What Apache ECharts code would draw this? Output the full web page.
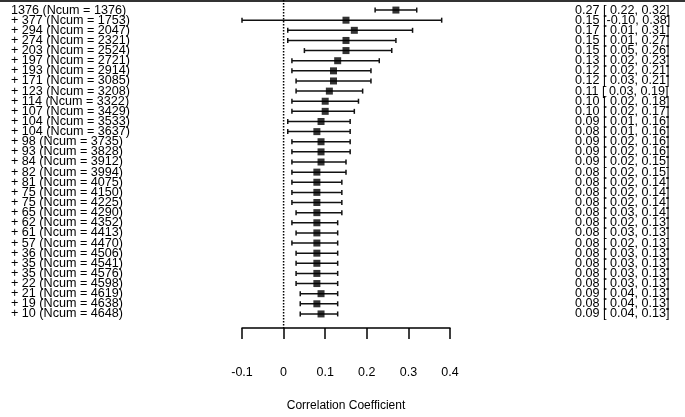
<!DOCTYPE html>
<html>
<head>
<meta charset="utf-8">
<script src="https://cdn.jsdelivr.net/npm/echarts@6/dist/echarts.min.js"></script>
<style>
  html, body { margin: 0; padding: 0; background: #fff; }
  #chart { width: 685px; height: 417px; }
</style>
</head>
<body>
<div id="chart"></div>
<script>
// ---- data ----
const added = [1376, 377, 294, 274, 203, 197, 193, 171, 123, 114, 107, 104, 104, 98, 93, 84, 82, 81, 75, 75, 65, 62, 61, 57, 36, 35, 35, 22, 21, 19, 10];
const ncum = [1376, 1753, 2047, 2321, 2524, 2721, 2914, 3085, 3208, 3322, 3429, 3533, 3637, 3735, 3828, 3912, 3994, 4075, 4150, 4225, 4290, 4352, 4413, 4470, 4506, 4541, 4576, 4598, 4619, 4638, 4648];
const estimate = [0.27, 0.15, 0.17, 0.15, 0.15, 0.13, 0.12, 0.12, 0.11, 0.10, 0.10, 0.09, 0.08, 0.09, 0.09, 0.09, 0.08, 0.08, 0.08, 0.08, 0.08, 0.08, 0.08, 0.08, 0.08, 0.08, 0.08, 0.08, 0.09, 0.08, 0.09];
const lower = [0.22, -0.10, 0.01, 0.01, 0.05, 0.02, 0.02, 0.03, 0.03, 0.02, 0.02, 0.01, 0.01, 0.02, 0.02, 0.02, 0.02, 0.02, 0.02, 0.02, 0.03, 0.02, 0.03, 0.02, 0.03, 0.03, 0.03, 0.03, 0.04, 0.04, 0.04];
const upper = [0.32, 0.38, 0.31, 0.27, 0.26, 0.23, 0.21, 0.21, 0.19, 0.18, 0.17, 0.16, 0.16, 0.16, 0.16, 0.15, 0.15, 0.14, 0.14, 0.14, 0.14, 0.13, 0.13, 0.13, 0.13, 0.13, 0.13, 0.13, 0.13, 0.13, 0.13];
const xTicks = [-0.1, 0, 0.1, 0.2, 0.3, 0.4];
const xTitle = 'Correlation Coefficient';

// ---- derived ----
const leftLabels = added.map((a, i) => (i === 0 ? '' : '+ ') + a + ' (Ncum = ' + ncum[i] + ')');
const fmt = v => v.toFixed(2);
const rightLabels = estimate.map((e, i) =>
  fmt(e) + ' [' + (lower[i] >= 0 ? ' ' : '') + fmt(lower[i]) + ', ' + fmt(upper[i]) + ']');
const rows = added.map((_, i) => i);

const FONT = '"Liberation Sans", Arial, sans-serif';
const FS = 12.6;
const chart = echarts.init(document.getElementById('chart'), null, { renderer: 'canvas' });

chart.setOption({
  animation: false,
  backgroundColor: '#fff',
  grid: { left: 242, right: 235, top: 5, height: 323, containLabel: false },
  graphic: [
    { type: 'rect', shape: { x: 0, y: 0, width: 685, height: 2 }, style: { fill: '#333' } }
  ],
  xAxis: {
    type: 'value',
    min: xTicks[0],
    max: xTicks[xTicks.length - 1],
    interval: 0.1,
    offset: 9,
    name: xTitle,
    nameLocation: 'middle',
    nameGap: 72,
    nameTextStyle: { fontFamily: FONT, fontSize: 12, color: '#000' },
    axisLine: { show: true, lineStyle: { color: '#000', width: 1.5 } },
    axisTick: { show: true, inside: false, length: 11, lineStyle: { color: '#000', width: 1.5 } },
    axisLabel: {
      margin: 38,
      fontFamily: FONT, fontSize: 12.5, color: '#000',
      formatter: v => (Math.abs(v) < 1e-9 ? '0' : (Math.round(v * 10) / 10).toString())
    },
    splitLine: { show: false }
  },
  yAxis: [
    {
      type: 'category', data: leftLabels, inverse: true, position: 'left',
      boundaryGap: true,
      axisLine: { show: false }, axisTick: { show: false }, splitLine: { show: false },
      axisLabel: { show: true, interval: 0, align: 'left', margin: 231, fontFamily: FONT, fontSize: FS, color: '#000' }
    },
    {
      type: 'category', data: rightLabels, inverse: true, position: 'right',
      boundaryGap: true,
      axisLine: { show: false }, axisTick: { show: false }, splitLine: { show: false },
      axisLabel: { show: true, interval: 0, align: 'left', margin: 125, fontFamily: FONT, fontSize: FS, color: '#000' }
    }
  ],
  series: [
    {
      type: 'custom',
      name: 'zero',
      yAxisIndex: 0,
      data: [[0, 0]],
      silent: true,
      renderItem: function (params, api) {
        const x = api.coord([api.value(0), 0])[0];
        const cs = params.coordSys;
        return {
          type: 'line',
          shape: { x1: x, y1: cs.y - 5, x2: x, y2: cs.y + cs.height + 9 },
          style: { stroke: '#000', lineWidth: 1.5, lineDash: [1.5, 1.5] }
        };
      }
    },
    {
      type: 'custom',
      name: 'ci',
      yAxisIndex: 0,
      data: rows.map(i => [lower[i], upper[i], i]),
      encode: { x: [0, 1], y: 2 },
      silent: true,
      renderItem: function (params, api) {
        const yv = api.value(2);
        const p1 = api.coord([api.value(0), yv]);
        const p2 = api.coord([api.value(1), yv]);
        const h = 2.5;
        const st = { stroke: '#111', lineWidth: 1.5 };
        return {
          type: 'group',
          children: [
            { type: 'line', shape: { x1: p1[0], y1: p1[1], x2: p2[0], y2: p2[1] }, style: st },
            { type: 'line', shape: { x1: p1[0], y1: p1[1] - h, x2: p1[0], y2: p1[1] + h }, style: st },
            { type: 'line', shape: { x1: p2[0], y1: p2[1] - h, x2: p2[0], y2: p2[1] + h }, style: st }
          ]
        };
      }
    },
    {
      type: 'scatter',
      name: 'estimate',
      yAxisIndex: 0,
      symbol: 'rect',
      symbolSize: 7,
      itemStyle: { color: '#000' },
      data: rows.map(i => [estimate[i], i]),
      silent: true
    }
  ]
});
</script>
</body>
</html>
